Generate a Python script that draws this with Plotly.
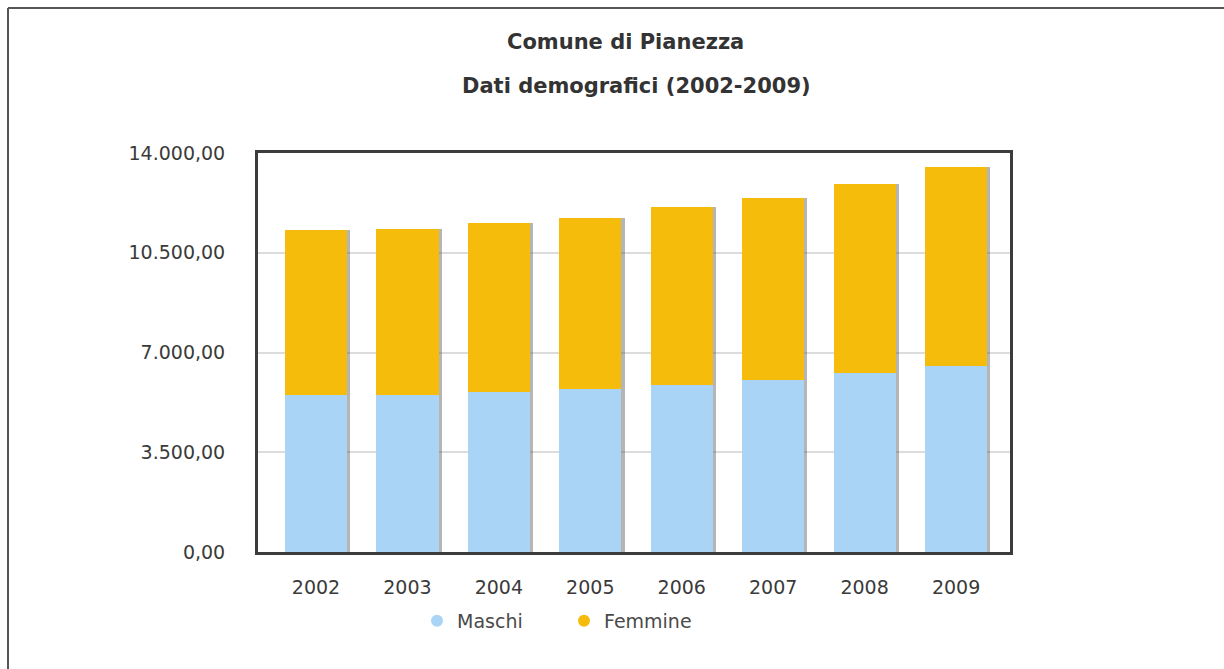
import plotly.graph_objects as go

# Population of Pianezza by sex, 2002-2009
years = ["2002", "2003", "2004", "2005", "2006", "2007", "2008", "2009"]
maschi = [5510, 5520, 5600, 5720, 5860, 6045, 6280, 6535]
femmine = [5775, 5820, 5930, 6005, 6250, 6380, 6635, 6965]

y_ticks = [0, 3500, 7000, 10500, 14000]
y_tick_labels = ["0,00", "3.500,00", "7.000,00", "10.500,00", "14.000,00"]

totals = [m + f for m, f in zip(maschi, femmine)]
x_idx = list(range(len(years)))

COL_M = "#A9D4F6"
COL_F = "#F6BC0C"
TXT = "#3a3a3a"
FONT = "DejaVu Sans"
BAR_W = 0.68

fig = go.Figure()

# soft drop shadow behind each stacked column
fig.add_trace(go.Bar(
    x=x_idx, y=totals, width=BAR_W, offset=-BAR_W / 2 + 0.035,
    marker=dict(color="rgba(90,90,90,0.45)", line=dict(width=0)),
    showlegend=False, hoverinfo="skip",
))
fig.add_trace(go.Bar(
    x=x_idx, y=maschi, width=BAR_W, offset=-BAR_W / 2, name="Maschi",
    marker=dict(color=COL_M, line=dict(width=0)), showlegend=False,
))
fig.add_trace(go.Bar(
    x=x_idx, y=femmine, base=maschi, width=BAR_W, offset=-BAR_W / 2, name="Femmine",
    marker=dict(color=COL_F, line=dict(width=0)), showlegend=False,
))

# round legend markers
for name, col in [("Maschi", COL_M), ("Femmine", COL_F)]:
    fig.add_trace(go.Scatter(
        x=[None], y=[None], mode="markers", name=name,
        marker=dict(symbol="circle", size=13, color=col),
    ))

L, R, T, B = 258, 214, 153, 117
plot_w = 1224 - L - R
plot_h = 669 - T - B

fig.update_layout(
    width=1224, height=669,
    margin=dict(l=L, r=R, t=T, b=B),
    paper_bgcolor="white", plot_bgcolor="white",
    barmode="overlay", bargap=0,
    font=dict(family=FONT, color=TXT),
    showlegend=True,
    legend=dict(
        orientation="h", x=(417 - L) / plot_w, xanchor="left",
        y=(T + plot_h - 621) / plot_h, yanchor="middle",
        font=dict(size=19, color="#4a4a4a", family=FONT),
        itemsizing="constant", itemwidth=30, traceorder="normal",
        entrywidth=102, entrywidthmode="pixels",
    ),
    xaxis=dict(
        range=[-0.634, 7.59], tickmode="array", tickvals=x_idx, ticktext=years,
        showgrid=False, zeroline=False,
        showline=True, mirror=True, linewidth=3, linecolor="#3c3c3c",
        ticks="outside", ticklen=16, tickcolor="rgba(0,0,0,0)",
        tickfont=dict(size=19, color=TXT, family=FONT),
    ),
    yaxis=dict(
        range=[0, 14000], tickmode="array", tickvals=y_ticks, ticktext=y_tick_labels,
        showgrid=True, gridcolor="#dcdcdc", gridwidth=2, zeroline=False,
        showline=True, mirror=True, linewidth=3, linecolor="#3c3c3c",
        ticks="outside", ticklen=26, tickcolor="rgba(0,0,0,0)",
        tickfont=dict(size=19, color=TXT, family=FONT),
    ),
    annotations=[
        dict(text="<b>Comune di Pianezza</b>", xref="paper", yref="paper",
             x=(625 - L) / plot_w, y=(T + plot_h - 42) / plot_h,
             xanchor="center", yanchor="middle", showarrow=False,
             font=dict(size=21, color="#333333", family=FONT)),
        dict(text="<b>Dati demografici (2002-2009)</b>", xref="paper", yref="paper",
             x=(636 - L) / plot_w, y=(T + plot_h - 86) / plot_h,
             xanchor="center", yanchor="middle", showarrow=False,
             font=dict(size=21, color="#333333", family=FONT)),
    ],
    shapes=[
        # page frame: top and left edges
        dict(type="line", xref="paper", yref="paper",
             x0=(8 - L) / plot_w, x1=(1224 - L) / plot_w,
             y0=(T + plot_h - 8) / plot_h, y1=(T + plot_h - 8) / plot_h,
             line=dict(color="#555555", width=2)),
        dict(type="line", xref="paper", yref="paper",
             x0=(8 - L) / plot_w, x1=(8 - L) / plot_w,
             y0=(T + plot_h - 8) / plot_h, y1=(T + plot_h - 669) / plot_h,
             line=dict(color="#555555", width=2)),
    ],
)

fig.write_html("out.html")
